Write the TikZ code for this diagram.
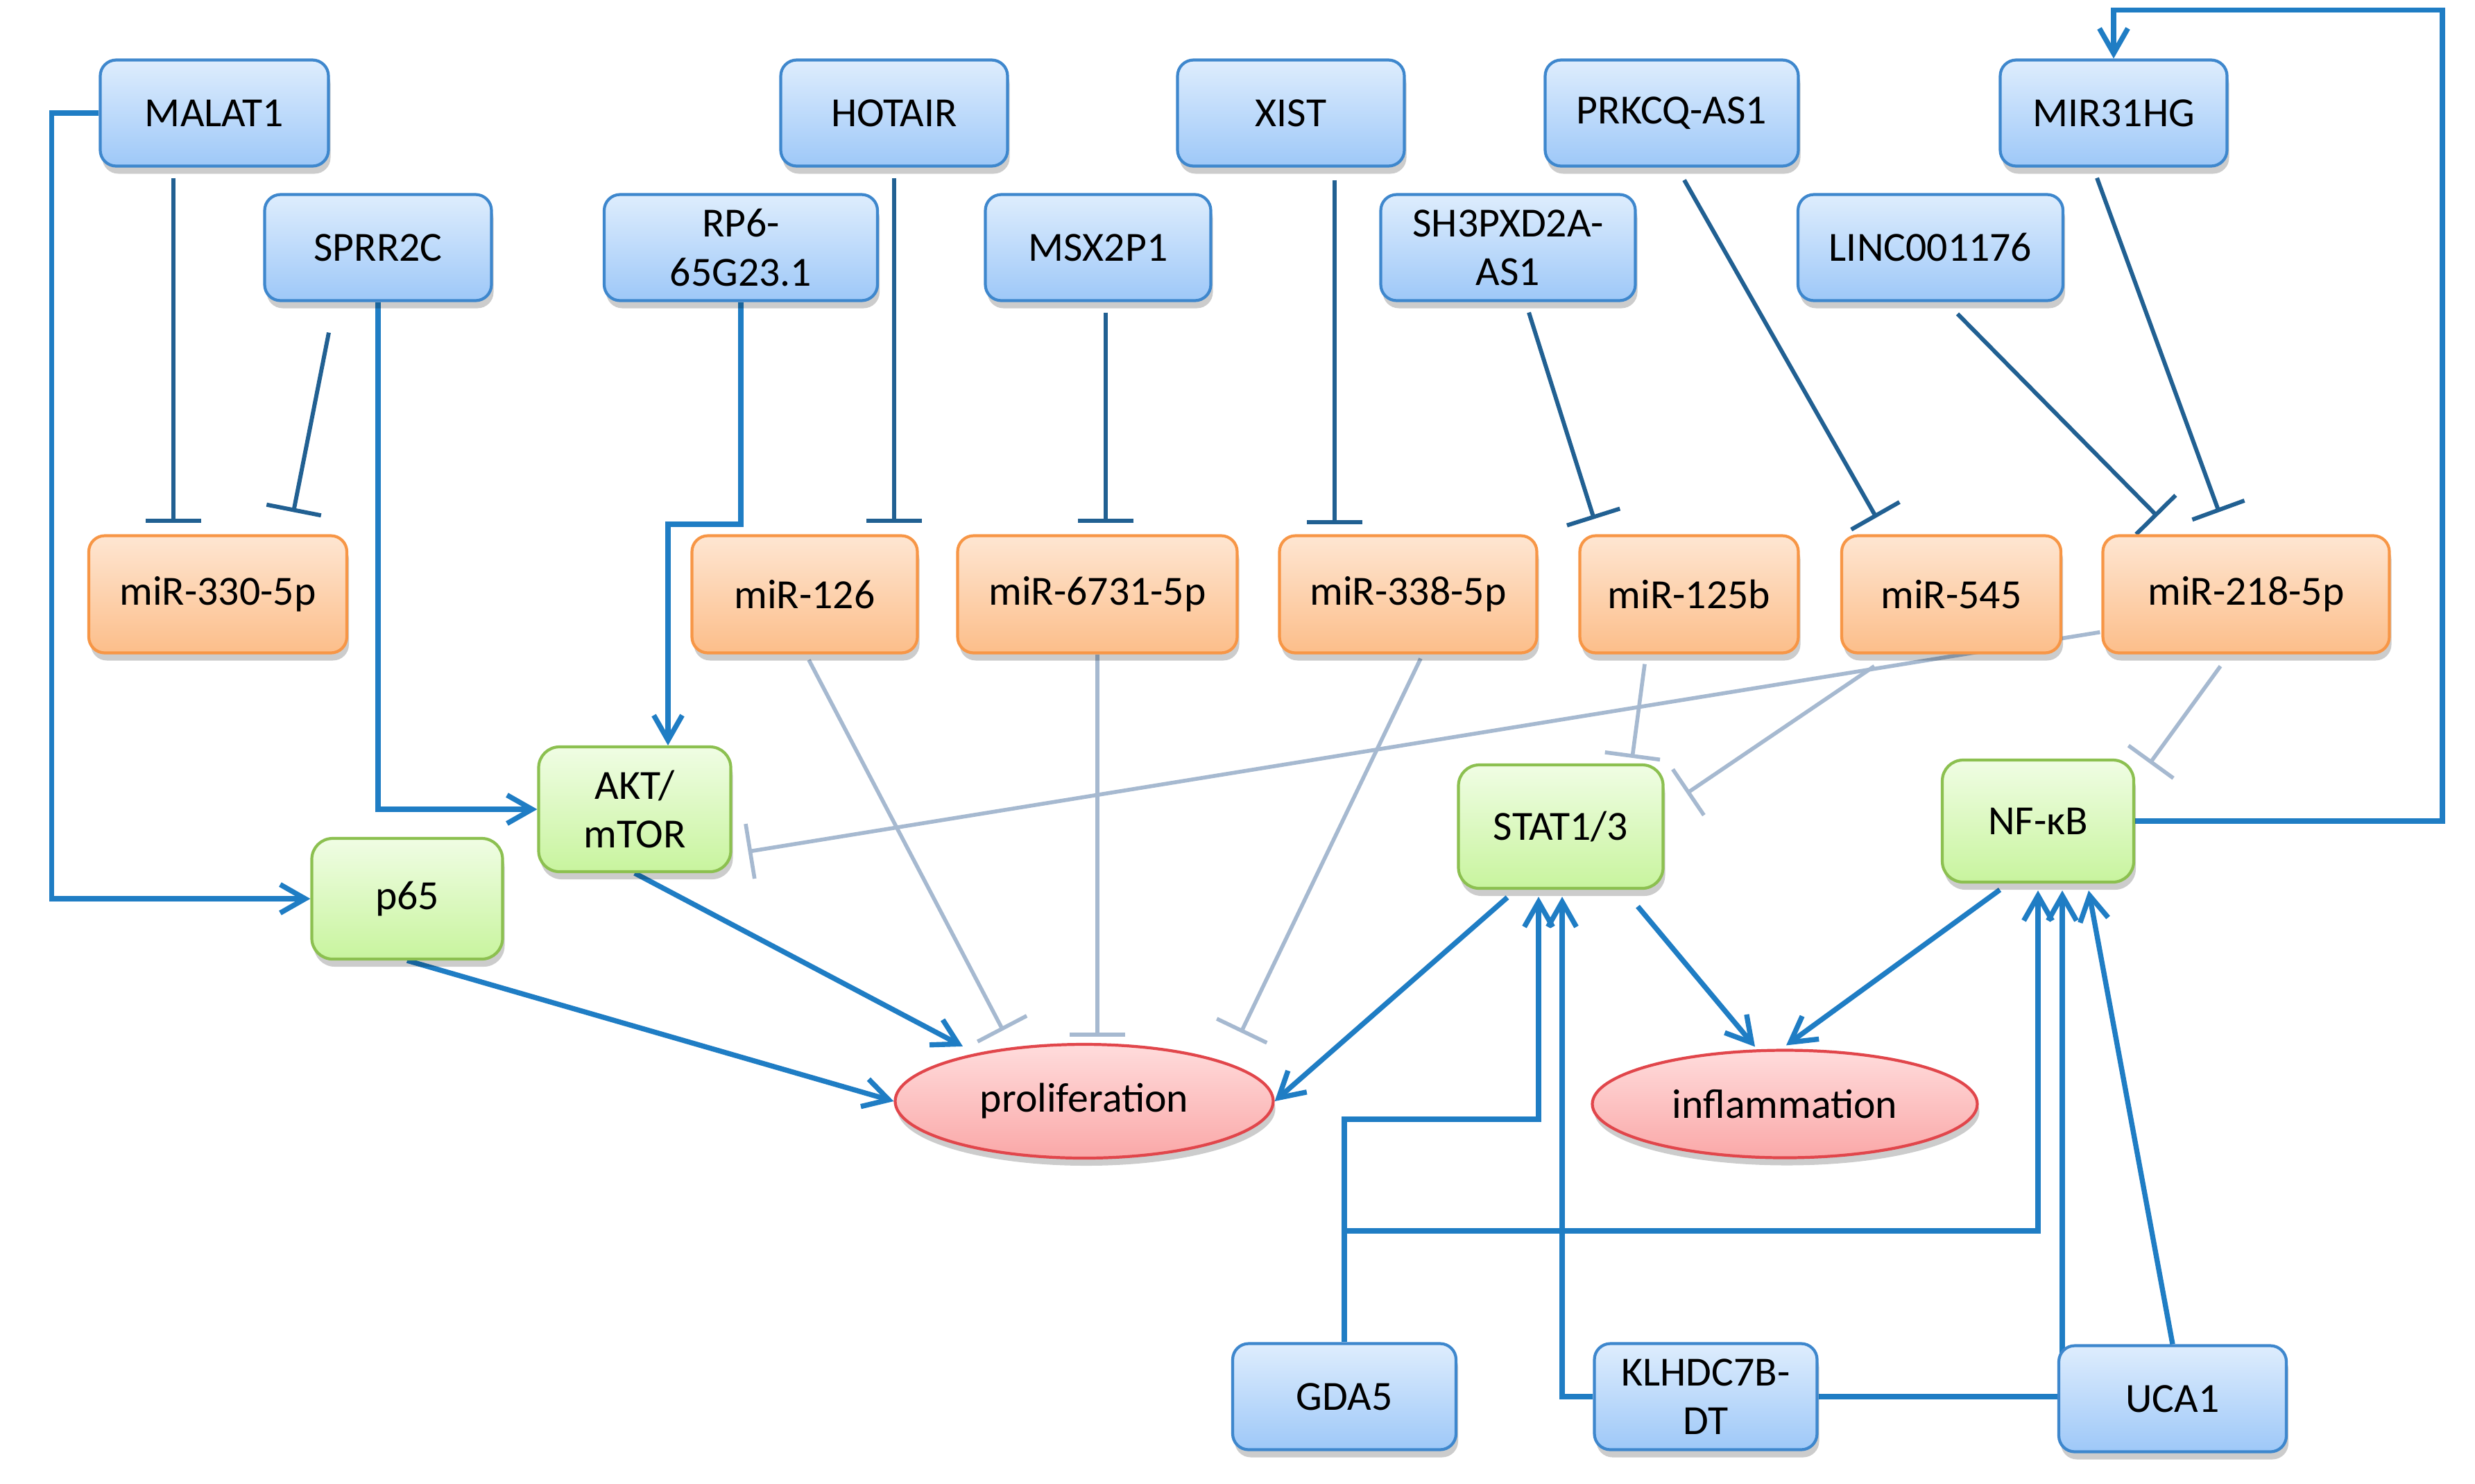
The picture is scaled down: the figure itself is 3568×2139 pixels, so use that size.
\documentclass[tikz,border=0pt]{standalone}
\usepackage{fontspec}
\setmainfont{Carlito}
\usetikzlibrary{arrows.meta,shapes.geometric,shadows,calc}
\definecolor{actblue}{RGB}{31,125,196}
\definecolor{inhblue}{RGB}{33,96,146}
\definecolor{grayblue}{RGB}{166,185,208}
\definecolor{bluetop}{RGB}{222,237,253}
\definecolor{bluebot}{RGB}{158,200,248}
\definecolor{bluebd}{RGB}{62,135,205}
\definecolor{ortop}{RGB}{254,230,210}
\definecolor{orbot}{RGB}{252,190,138}
\definecolor{orbd}{RGB}{247,150,70}
\definecolor{grtop}{RGB}{240,253,228}
\definecolor{grbot}{RGB}{200,244,158}
\definecolor{grbd}{RGB}{140,192,80}
\definecolor{redtop}{RGB}{255,220,220}
\definecolor{redbot}{RGB}{250,168,168}
\definecolor{redbd}{RGB}{225,70,75}
\pgfdeclarelayer{back}
\pgfdeclarelayer{lines}
\pgfsetlayers{back,lines,main}
\begin{document}
\begin{tikzpicture}[x=0.1mm,y=-0.1mm,
  box/.style={rectangle, rounded corners=2.3mm, line width=1.2pt,
    font=\fontsize{17}{20}\selectfont, align=center, inner sep=0pt,
    minimum height=15.3mm,
    drop shadow={shadow xshift=0.3mm, shadow yshift=-1.1mm, opacity=0.2, fill=black}},
  bluebox/.style={box, draw=bluebd, top color=bluetop, bottom color=bluebot},
  orangebox/.style={box, draw=orbd, top color=ortop, bottom color=orbot, minimum height=16.9mm},
  greenbox/.style={box, rounded corners=3mm, draw=grbd, top color=grtop, bottom color=grbot, minimum height=17.8mm},
  redell/.style={ellipse, line width=1.2pt, draw=redbd, top color=redtop, bottom color=redbot,
    font=\fontsize{17}{20}\selectfont, inner sep=0pt,
    drop shadow={shadow xshift=0.3mm, shadow yshift=-1.1mm, opacity=0.2, fill=black}},
  act/.style={draw=actblue, line width=2.1pt, -{Straight Barb[length=3.6mm,width=4.1mm]}},
  inh/.style={draw=inhblue, line width=1.7pt, -{Bar[width=8mm]}},
  ginh/.style={draw=grayblue, line width=1.6pt, -{Bar[width=8mm]}}
]
\begin{pgfonlayer}{back}
\fill[white] (0,0) rectangle (3568,2139);
\end{pgfonlayer}
\useasboundingbox (0,0) rectangle (3568,2139);

% top row
\node[bluebox, minimum width=32.9mm] (malat) at (309,163) {MALAT1};
\node[bluebox, minimum width=32.7mm] (hotair) at (1289,163) {HOTAIR};
\node[bluebox, minimum width=32.7mm] (xist) at (1861,163) {XIST};
\node[bluebox, minimum width=36.5mm] (prkcq) at (2410,163) {PRKCQ-AS1};
\node[bluebox, minimum width=32.7mm] (mir31) at (3047,163) {MIR31HG};
% second row
\node[bluebox, minimum width=32.7mm] (sprr) at (545,357) {SPRR2C};
\node[bluebox, minimum width=39.4mm] (rp6) at (1068,357) {RP6-\\65G23.1};
\node[bluebox, minimum width=32.5mm] (msx) at (1583,357) {MSX2P1};
\node[bluebox, minimum width=36.7mm] (sh3) at (2174,357) {SH3PXD2A-\\AS1};
\node[bluebox, minimum width=38.2mm] (linc) at (2783,357) {LINC001176};
% miRNAs
\node[orangebox, minimum width=37.2mm] (mir330) at (314,857) {miR-330-5p};
\node[orangebox, minimum width=32.5mm] (mir126) at (1160,857) {miR-126};
\node[orangebox, minimum width=40.3mm] (mir6731) at (1582,857) {miR-6731-5p};
\node[orangebox, minimum width=37.1mm] (mir338) at (2030,857) {miR-338-5p};
\node[orangebox, minimum width=31.5mm] (mir125b) at (2435,857) {miR-125b};
\node[orangebox, minimum width=31.6mm] (mir545) at (2813,857) {miR-545};
\node[orangebox, minimum width=41.3mm] (mir218) at (3238,857) {miR-218-5p};
% green
\node[greenbox, minimum width=27.7mm, minimum height=18mm] (akt) at (915,1167) {AKT/\\mTOR};
\node[greenbox, minimum width=27.5mm, minimum height=17.4mm] (p65) at (587,1296) {p65};
\node[greenbox, minimum width=29.5mm] (stat) at (2250,1192) {STAT1/3};
\node[greenbox, minimum width=27.6mm, minimum height=17.6mm] (nfkb) at (2938,1184) {NF-κB};
% outcomes
\node[redell, minimum width=54.5mm, minimum height=16.4mm] (prolif) at (1563,1588) {proliferation};
\node[redell, minimum width=55.5mm, minimum height=15.5mm] (inflam) at (2573,1592) {inflammation};
% bottom row
\node[bluebox, minimum width=32.2mm] (gda) at (1938,2014) {GDA5};
\node[bluebox, minimum width=32.1mm] (klh) at (2459,2014) {KLHDC7B-\\DT};
\node[bluebox, minimum width=32.8mm] (uca) at (3132,2017) {UCA1};

\begin{pgfonlayer}{lines}
% dark inhibitions lncRNA -| miRNA
\draw[inh, shorten <=1.5mm, shorten >=1.6mm] (malat.south -| 250,0) -- (mir330.north -| 250,0);
\draw[inh] ($(sprr.south)+(-71,44)$) -- ($(mir330.north)+(109,-32)$);
\draw[inh, shorten <=1.5mm, shorten >=1.6mm] (hotair.south) -- (hotair.south |- mir126.north);
\draw[inh, shorten <=1.5mm, shorten >=1.6mm] (msx.south -| 1594,0) -- (mir6731.north -| 1594,0);
\draw[inh, shorten <=1.8mm, shorten >=1.4mm] (xist.south -| 1924,0) -- (mir338.north -| 1924,0);
\draw[inh] ($(sh3.south)+(30,15)$) -- ($(mir125b.north)+(-137,-22)$);
\draw[inh] ($(prkcq.south)+(18,18)$) -- ($(mir545.north)+(-108,-24)$);
\draw[inh] ($(linc.south)+(39,17)$) -- ($(mir218.north)+(-128,-26)$);
\draw[inh] ($(mir31.south)+(-24,15)$) -- ($(mir218.north)+(-39,-32)$);
% gray inhibitions miRNA -| targets
\draw[ginh] ($(mir126.south)+(6,8)$) -- ($(prolif.north)+(-117,-18)$);
\draw[ginh, shorten >=0.9mm] (mir6731.south) -- (mir6731.south |- prolif.north);
\draw[ginh] ($(mir338.south)+(18,6)$) -- ($(prolif.north)+(226,-15)$);
\draw[ginh] ($(mir218.south west)+(-2,-32)$) -- ($(akt.east)+(23,61)$);
\draw[ginh] ($(mir125b.south)+(-64,14)$) -- ($(stat.north)+(103,-8)$);
\draw[ginh] ($(mir545.south)+(-111,17)$) -- ($(stat.east)+(32,-48)$);
\draw[ginh] ($(mir218.south)+(-37,17)$) -- ($(nfkb.north east)+(21,7)$);
% activations
\draw[act] (malat.west) -- ++(-68,0) |- (p65.west);
\draw[act] (sprr.south) |- (akt.west);
\draw[act] (rp6.south) -- (rp6.south |- 0,756) -| ($(akt.north)+(48,0)$);
\draw[act] (nfkb.east) -- ++(443,0) |- ($(mir31.north)+(0,-70)$) -- (mir31.north);
\draw[act] (akt.south) -- ($(prolif.north)+(-175,5)$);
\draw[act] (p65.south) -- (prolif.west);
\draw[act] ($(stat.south)+(-77,11)$) -- (prolif.east);
\draw[act] ($(stat.south)+(111,24)$) -- ($(inflam.north)+(-43,-3)$);
\draw[act] ($(nfkb.south)+(-55,9)$) -- ($(inflam.north)+(2,-5)$);
\draw[act] (gda.north) -- (gda.north |- 0,1614) -| ($(stat.south)+(-32,10)$);
\draw[act] (gda.north) -- (gda.north |- 0,1775) -| ($(nfkb.south)+(0,10)$);
\draw[act] (klh.west) -| ($(stat.south)+(2,10)$);
\draw[act] (klh.east) -| ($(nfkb.south)+(35,10)$);
\draw[act] (uca.north) -- ($(nfkb.south)+(73,10)$);
\end{pgfonlayer}
\end{tikzpicture}
\end{document}
